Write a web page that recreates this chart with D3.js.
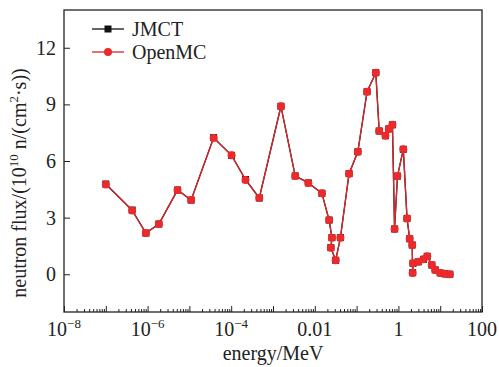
<!DOCTYPE html>
<html>
<head>
<meta charset="utf-8">
<script src="https://cdn.jsdelivr.net/npm/d3@7"></script>
<style>
  body { margin: 0; background: #fff; }
  text { font-family: "Liberation Serif", "Times New Roman", serif; fill: #222; }
</style>
</head>
<body>
<div id="chart"></div>
<script>
// energy group values (MeV)
var energy = [1e-7, 4.27e-7, 9.1e-7, 1.86e-6, 5.2e-6, 1.1e-5, 3.8e-5, 1.02e-4, 2.2e-4, 4.7e-4,
    1.55e-3, 3.4e-3, 7.0e-3, 1.48e-2, 2.2e-2, 2.57e-2, 2.42e-2, 3.16e-2, 4.1e-2, 6.6e-2,
    0.107, 0.178, 0.288, 0.347, 0.49, 0.59, 0.72, 0.81, 0.95, 1.31,
    1.61, 1.86, 2.14, 2.19, 2.24, 2.99, 3.98, 4.9, 6.3, 7.6,
    10, 13, 17];
var jmct = [4.78, 3.4, 2.18, 2.66, 4.46, 3.93, 7.24, 6.3, 5.02, 4.04,
    8.9, 5.21, 4.84, 4.29, 2.87, 1.94, 1.41, 0.74, 1.94, 5.33,
    6.49, 9.67, 10.68, 7.59, 7.34, 7.7, 7.92, 2.4, 5.2, 6.62,
    2.96, 1.88, 1.55, 0.08, 0.58, 0.66, 0.79, 0.95, 0.49, 0.23,
    0.07, 0.02, 0.0];
var openmc = [4.76, 3.38, 2.18, 2.66, 4.46, 3.93, 7.22, 6.3, 5.0, 4.04,
    8.9, 5.2, 4.84, 4.29, 2.87, 1.94, 1.41, 0.74, 1.94, 5.33,
    6.49, 9.67, 10.68, 7.59, 7.34, 7.7, 7.92, 2.4, 5.2, 6.62,
    2.96, 1.88, 1.55, 0.06, 0.58, 0.66, 0.79, 0.95, 0.49, 0.23,
    0.06, 0.02, 0.0];
var xTicks = [1e-8, 1e-6, 1e-4, 1e-2, 1, 100];
var xTickText = [['10', '\u22128'], ['10', '\u22126'], ['10', '\u22124'], ['0.01', ''], ['1', ''], ['100', '']];
var yTicks = [0, 3, 6, 9, 12];
var seriesNames = ['JMCT', 'OpenMC'];

var W = 499, H = 367;
var m = { left: 64, right: 17, top: 10, bottom: 55 };

var svg = d3.select('#chart').append('svg')
    .attr('width', W)
    .attr('height', H);

var x = d3.scaleLog().domain([1e-8, 100]).range([m.left, W - m.right]);
var y = d3.scaleLinear().domain([-2, 14]).range([H - m.bottom, m.top]);

// minor ticks for the log axis
var minor = [];
for (var e = -8; e < 2; e++) {
    for (var k = 2; k < 10; k++) minor.push(k * Math.pow(10, e));
}
var decades = d3.range(-8, 3).map(function (e) { return Math.pow(10, e); });

var g = svg.append('g');

g.append('g')
    .attr('transform', `translate(0,${H - m.bottom})`)
    .call(d3.axisBottom(x).tickValues(minor).tickSize(-3).tickFormat(''))
    .call(a => a.select('.domain').remove());
g.append('g')
    .attr('transform', `translate(0,${H - m.bottom})`)
    .call(d3.axisBottom(x).tickValues(decades).tickSize(-6).tickFormat(''))
    .call(a => a.select('.domain').remove());
g.append('g')
    .attr('transform', `translate(${m.left},0)`)
    .call(d3.axisLeft(y).tickValues(yTicks).tickSize(-6).tickFormat(''))
    .call(a => a.select('.domain').remove());
g.selectAll('.tick line').attr('stroke', '#222').attr('stroke-width', 1);

// x tick labels
var xl = svg.append('g').selectAll('text')
    .data(xTicks)
    .enter().append('text')
    .attr('x', d => x(d))
    .attr('y', H - m.bottom + 24)
    .attr('text-anchor', 'middle')
    .style('font-size', '20px');
xl.append('tspan').text((d, i) => xTickText[i][0]);
xl.append('tspan')
    .attr('dy', -8)
    .style('font-size', '13px')
    .text((d, i) => xTickText[i][1]);

svg.append('g').selectAll('text')
    .data(yTicks)
    .enter().append('text')
    .attr('x', m.left - 8)
    .attr('y', d => y(d) + 7)
    .attr('text-anchor', 'end')
    .style('font-size', '20px')
    .text(d => d);

// frame
svg.append('rect')
    .attr('x', m.left)
    .attr('y', m.top)
    .attr('width', W - m.left - m.right)
    .attr('height', H - m.top - m.bottom)
    .attr('fill', 'none')
    .attr('stroke', '#222')
    .attr('stroke-width', 1.3);

// axis titles
svg.append('text')
    .attr('x', (m.left + W - m.right) / 2)
    .attr('y', 360)
    .attr('text-anchor', 'middle')
    .style('font-size', '20px')
    .text('energy/MeV');

var yt = svg.append('text')
    .attr('transform', 'translate(26,183) rotate(-90)')
    .attr('text-anchor', 'middle')
    .style('font-size', '20px');
yt.append('tspan').text('neutron flux/(10');
yt.append('tspan').attr('dy', -8).style('font-size', '13px').text('10');
yt.append('tspan').attr('dy', 8).text(' n/(cm');
yt.append('tspan').attr('dy', -8).style('font-size', '13px').text('2');
yt.append('tspan').attr('dy', 8).text('\u00b7s))');

// series
var line = d3.line()
    .x(d => x(d[0]))
    .y(d => y(d[1]));

var jData = energy.map((e, i) => [e, jmct[i]]);
var oData = energy.map((e, i) => [e, openmc[i]]);

svg.append('path')
    .datum(jData)
    .attr('d', line)
    .attr('fill', 'none')
    .attr('stroke', '#111')
    .attr('stroke-width', 1.3);
svg.append('g').selectAll('rect')
    .data(jData)
    .enter().append('rect')
    .attr('x', d => x(d[0]) - 3.5)
    .attr('y', d => y(d[1]) - 3.5)
    .attr('width', 7)
    .attr('height', 7)
    .attr('fill', '#111');

var red = '#ec2a2c';
svg.append('path')
    .datum(oData)
    .attr('d', line)
    .attr('fill', 'none')
    .attr('stroke', '#d9262a')
    .attr('stroke-width', 1.3);
svg.append('g').selectAll('circle')
    .data(oData)
    .enter().append('circle')
    .attr('cx', d => x(d[0]))
    .attr('cy', d => y(d[1]))
    .attr('r', 4)
    .attr('fill', red);

// legend
var leg = svg.append('g');
var items = leg.selectAll('g')
    .data(seriesNames)
    .enter().append('g')
    .attr('transform', (d, i) => `translate(92,${29 + i * 23})`);
items.append('line')
    .attr('x1', 0).attr('x2', 32)
    .attr('stroke', (d, i) => i ? '#d9262a' : '#111')
    .attr('stroke-width', 1.3);
items.filter((d, i) => i === 0).append('rect')
    .attr('x', 12.5).attr('y', -3.5).attr('width', 7).attr('height', 7)
    .attr('fill', '#111');
items.filter((d, i) => i === 1).append('circle')
    .attr('cx', 16).attr('r', 4).attr('fill', red);
items.append('text')
    .attr('x', 40)
    .attr('y', 7)
    .style('font-size', '20px')
    .text(d => d);
</script>
</body>
</html>
